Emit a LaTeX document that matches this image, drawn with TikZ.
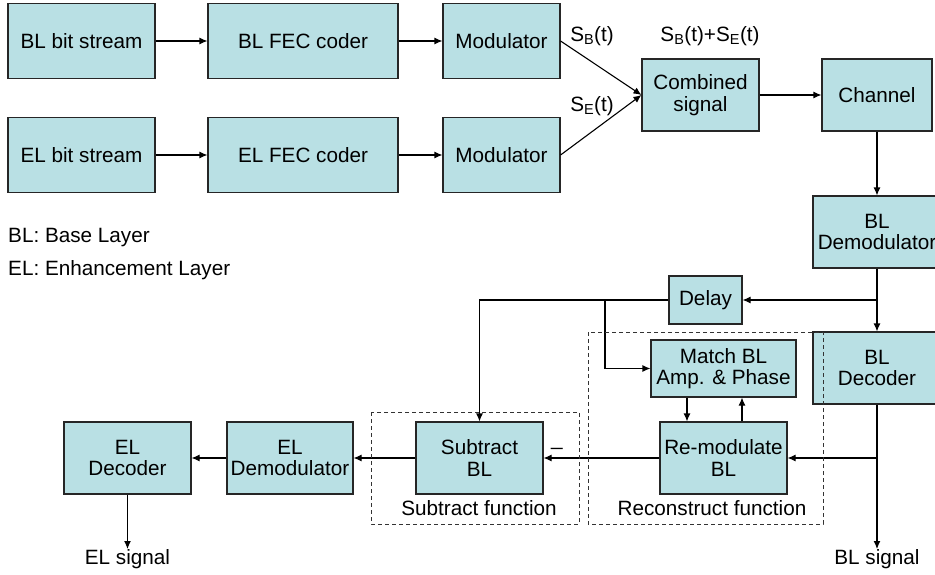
\documentclass[tikz,border=0pt]{standalone}
\usepackage{fontspec}
\setmainfont{Liberation Sans}
\usetikzlibrary{arrows.meta}
\definecolor{boxfill}{RGB}{185,224,228}
\tikzset{
  blk/.style={draw=black!85, line width=1.1pt, fill=boxfill, inner sep=0pt, align=center,
    font=\fontsize{20.7}{21.5}\selectfont},
  arr/.style={line width=1.1pt, -{Latex[length=8pt,width=7pt]}},
  ln/.style={line width=1.1pt},
  lbl/.style={inner sep=0pt, font=\fontsize{20.7}{21.5}\selectfont, align=center},
  dbox/.style={draw=black!80, line width=0.9pt, dash pattern=on 4pt off 3pt},
}
\begin{document}
\begin{tikzpicture}[x=1pt,y=-1pt]
\useasboundingbox (0,0) rectangle (935,574);
% top rows
\node[blk, minimum width=147pt, minimum height=75pt] (bls) at (81.5,41) {BL bit stream};
\node[blk, minimum width=190pt, minimum height=75pt] (blfec) at (303,41) {BL FEC coder};
\node[blk, minimum width=117pt, minimum height=75pt] (mod1) at (501.5,41) {Modulator};
\node[blk, minimum width=147pt, minimum height=75pt] (els) at (81.5,155) {EL bit stream};
\node[blk, minimum width=190pt, minimum height=75pt] (elfec) at (303,155) {EL FEC coder};
\node[blk, minimum width=117pt, minimum height=75pt] (mod2) at (501.5,155) {Modulator};
\node[blk, minimum width=117pt, minimum height=72pt] (comb) at (700.5,95) {Combined\\signal};
\node[blk, minimum width=110pt, minimum height=72pt] (chan) at (877,95) {Channel};
% right column
\node[blk, minimum width=128pt, minimum height=72pt] (bldem) at (877,232) {BL\\Demodulator};
\node[blk, minimum width=128pt, minimum height=72pt] (bldec) at (877,368) {BL\\Decoder};
\node[blk, minimum width=73pt, minimum height=48pt] (delay) at (705.5,300) {Delay};
\node[blk, minimum width=145pt, minimum height=57pt] (match) at (723.5,368.5) {Match BL\\Amp. \& Phase};
\node[blk, minimum width=127pt, minimum height=72pt] (remod) at (723.5,458) {Re-modulate\\BL};
\node[blk, minimum width=127pt, minimum height=72pt] (sub) at (479.5,458) {Subtract\\BL};
\node[blk, minimum width=126pt, minimum height=72pt] (eldem) at (290,458) {EL\\Demodulator};
\node[blk, minimum width=127pt, minimum height=72pt] (eldec) at (127.5,458) {EL\\Decoder};
% labels
\node[lbl] (sb) at (592,36) {S\textsubscript{B}(t)};
\node[lbl] (se) at (592,106) {S\textsubscript{E}(t)};
\node[lbl] (sbe) at (710,36) {S\textsubscript{B}(t)+S\textsubscript{E}(t)};
\node[lbl, anchor=west] (leg1) at (8,238) {BL: Base Layer};
\node[lbl, anchor=west] (leg2) at (8,270) {EL: Enhancement Layer};
\node[lbl] (subf) at (479,508) {Subtract function};
\node[lbl] (recf) at (712,508) {Reconstruct function};
\node[lbl] (minus) at (557,448) {\_};
\node[lbl, anchor=north] (elsig) at (127.5,549) {EL signal};
\node[lbl, anchor=north] (blsig) at (877,549) {BL signal};
% connectors
\draw[arr] (bls) -- (blfec);
\draw[arr] (blfec) -- (mod1);
\draw[arr] (els) -- (elfec);
\draw[arr] (elfec) -- (mod2);
\draw[arr] (mod1.east) -- (comb.west);
\draw[arr] (mod2.east) -- (comb.west);
\draw[arr] (comb) -- (chan);
\draw[arr] (chan) -- (bldem);
\draw[arr] (bldem) -- (bldec);
\draw[arr] (bldem.south |- delay.east) -- (delay.east);
\coordinate (br) at (605,300);
\draw[arr] (delay.west) -- (sub.north |- delay.west) -- (sub.north);
\draw[arr] (br) |- (match.west);
\coordinate (dn) at (687,0);
\coordinate (up) at (742,0);
\draw[arr] (match.south -| dn) -- (remod.north -| dn);
\draw[arr] (remod.north -| up) -- (match.south -| up);
\draw[arr] (bldec.south) -- (blsig.north);
\draw[arr] (bldec.south |- remod.east) -- (remod.east);
\draw[arr] (remod) -- (sub);
\draw[arr] (sub) -- (eldem);
\draw[arr] (eldem) -- (eldec);
\draw[arr] (eldec) -- (elsig);
% dashed regions
\draw[dbox] (588,332) rectangle (823,524);
\draw[dbox] (371,412) rectangle (579,524);
\end{tikzpicture}
\end{document}
